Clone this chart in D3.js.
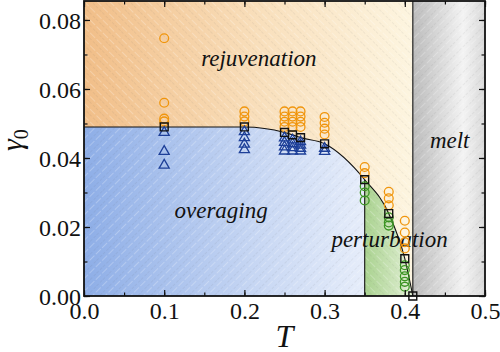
<!DOCTYPE html>
<html>
<head>
<meta charset="utf-8">
<script src="https://cdn.jsdelivr.net/npm/d3@7.9.0/dist/d3.min.js"></script>
<style>
  body { margin: 0; background: #fff; }
  svg { display: block; }
</style>
</head>
<body>
<svg id="chart" width="500" height="352"></svg>
<script>
// data: [T, gamma0]
const rejuvenationPts = [
  [0.1, 0.0747], [0.1, 0.056], [0.1, 0.0514], [0.1, 0.0506],
  [0.2, 0.0535], [0.2, 0.052], [0.2, 0.0506],
  [0.25, 0.0535], [0.25, 0.052], [0.25, 0.0505], [0.25, 0.049],
  [0.26, 0.0535], [0.26, 0.052], [0.26, 0.0505], [0.26, 0.049],
  [0.27, 0.0535], [0.27, 0.052], [0.27, 0.0505], [0.27, 0.049],
  [0.3, 0.0519], [0.3, 0.0502], [0.3, 0.0485], [0.3, 0.0468],
  [0.35, 0.0374], [0.35, 0.0356],
  [0.38, 0.0302], [0.38, 0.0283], [0.38, 0.0263],
  [0.4, 0.0218], [0.4, 0.0184], [0.4, 0.0156], [0.4, 0.0138]
];
const overagingPts = [
  [0.1, 0.0474], [0.1, 0.0419], [0.1, 0.0379],
  [0.2, 0.0476], [0.2, 0.0459], [0.2, 0.044], [0.2, 0.0424],
  [0.25, 0.0458], [0.25, 0.0445], [0.25, 0.0432], [0.25, 0.042],
  [0.26, 0.0452], [0.26, 0.0441], [0.26, 0.043], [0.26, 0.042],
  [0.27, 0.0447], [0.27, 0.0437], [0.27, 0.0428], [0.27, 0.042],
  [0.3, 0.0428], [0.3, 0.0419]
];
const perturbationPts = [
  [0.35, 0.0318], [0.35, 0.030], [0.35, 0.0277],
  [0.38, 0.0228], [0.38, 0.0213], [0.38, 0.0204],
  [0.4, 0.0089], [0.4, 0.0075], [0.4, 0.0057], [0.4, 0.0041], [0.4, 0.0027]
];
const boundaryT = [0, 0.1, 0.2, 0.25, 0.26, 0.27, 0.3, 0.35, 0.38, 0.4, 0.41];
const boundaryG = [0.049, 0.049, 0.049, 0.0474, 0.0467, 0.0459, 0.0441, 0.0337, 0.0239, 0.0108, 0];
const squareIdx = [1, 2, 3, 4, 5, 6, 7, 8, 9, 10];   // boundary points drawn as squares
const perturbT = 0.35, meltT = 0.41;
const regionNames = ['rejuvenation', 'overaging', 'perturbation', 'melt'];
const regionAt = [[0.218, 0.0667], [0.171, 0.0226], [0.381, 0.0142], [0.456, 0.0428]];
const xTicks = [0, 0.1, 0.2, 0.3, 0.4, 0.5];
const yTicks = [0, 0.02, 0.04, 0.06, 0.08];

const SERIF = 'Liberation Serif';
const svg = d3.select('#chart');
const L = 84, R = 485, T = 1, B = 296;

const x = d3.scaleLinear().domain([0, 0.5]).range([L, R]);
const y = d3.scaleLinear().domain([0, 0.0855]).range([B, T]);

const boundary = boundaryT.map((t, i) => [t, boundaryG[i]]);

const defs = svg.append('defs');

function grad(id, x1, x2, stops) {
  const g = defs.append('linearGradient').attr('id', id)
    .attr('gradientUnits', 'userSpaceOnUse')
    .attr('x1', x1).attr('x2', x2).attr('y1', 0).attr('y2', 0);
  stops.forEach(s => g.append('stop').attr('offset', s[0]).attr('stop-color', s[1]));
}
grad('gRej', x(0), x(meltT), [[0, '#f1be88'], [0.55, '#f9e0bd'], [1, '#fdf5e0']]);
grad('gOve', x(0), x(perturbT), [[0, '#8eaee7'], [0.6, '#c6d6f3'], [1, '#e6edfa']]);
grad('gPer', x(perturbT), x(meltT), [[0, '#a9d28f'], [1, '#e3f0d6']]);
grad('gMelt', x(meltT), x(0.5), [[0, '#bcbcbc'], [0.7, '#f3f3f3'], [1, '#d9d9d9']]);

function hatch(id, angle) {
  const p = defs.append('pattern').attr('id', id)
    .attr('patternUnits', 'userSpaceOnUse')
    .attr('width', 9).attr('height', 9)
    .attr('patternTransform', `rotate(${angle})`);
  p.append('line').attr('x1', 0).attr('y1', 0).attr('x2', 0).attr('y2', 9)
    .attr('stroke', 'rgba(70,70,70,0.2)').attr('stroke-width', 0.7)
    .attr('stroke-dasharray', '3,2');
  p.append('line').attr('x1', 4.5).attr('y1', 0).attr('x2', 4.5).attr('y2', 9)
    .attr('stroke', 'rgba(255,255,255,0.35)').attr('stroke-width', 0.7)
    .attr('stroke-dasharray', '4,2');
}
hatch('hBack', -45);
hatch('hFwd', 45);

defs.append('clipPath').attr('id', 'cOve').append('rect')
  .attr('x', x(0)).attr('y', T).attr('width', x(perturbT) - x(0)).attr('height', B - T);
defs.append('clipPath').attr('id', 'cPer').append('rect')
  .attr('x', x(perturbT)).attr('y', T).attr('width', x(meltT) - x(perturbT)).attr('height', B - T);

const area = d3.area().x(d => x(d[0])).y0(y(0)).y1(d => y(d[1])).curve(d3.curveMonotoneX);
const line = d3.line().x(d => x(d[0])).y(d => y(d[1])).curve(d3.curveMonotoneX);

// regions
const rej = [x(0), T, x(meltT) - x(0), B - T];
svg.append('rect').attr('x', rej[0]).attr('y', rej[1]).attr('width', rej[2]).attr('height', rej[3]).attr('fill', 'url(#gRej)');
svg.append('rect').attr('x', rej[0]).attr('y', rej[1]).attr('width', rej[2]).attr('height', rej[3]).attr('fill', 'url(#hBack)');

svg.append('path').attr('d', area(boundary)).attr('fill', 'url(#gOve)').attr('clip-path', 'url(#cOve)');
svg.append('path').attr('d', area(boundary)).attr('fill', 'url(#hFwd)').attr('clip-path', 'url(#cOve)');
svg.append('path').attr('d', area(boundary)).attr('fill', 'url(#gPer)').attr('clip-path', 'url(#cPer)');
svg.append('path').attr('d', area(boundary)).attr('fill', 'url(#hBack)').attr('clip-path', 'url(#cPer)');

svg.append('rect').attr('x', x(meltT)).attr('y', T).attr('width', x(0.5) - x(meltT)).attr('height', B - T).attr('fill', 'url(#gMelt)');
svg.append('rect').attr('x', x(meltT)).attr('y', T).attr('width', x(0.5) - x(meltT)).attr('height', B - T).attr('fill', 'url(#hFwd)');

// boundaries
const yAt35 = boundaryG[boundaryT.indexOf(perturbT)];
svg.append('line').attr('x1', x(perturbT)).attr('x2', x(perturbT)).attr('y1', y(0)).attr('y2', y(yAt35))
  .attr('stroke', '#111').attr('stroke-width', 1.1);
svg.append('line').attr('x1', x(meltT)).attr('x2', x(meltT)).attr('y1', y(0)).attr('y2', T)
  .attr('stroke', '#111').attr('stroke-width', 1.1);
svg.append('path').attr('d', line(boundary)).attr('fill', 'none').attr('stroke', '#111').attr('stroke-width', 1.1);

// region labels
const lab = svg.append('g');
regionNames.forEach((name, i) => {
  lab.append('text').attr('x', x(regionAt[i][0])).attr('y', y(regionAt[i][1])).attr('text-anchor', 'middle')
    .style('font-family', SERIF).style('font-style', 'italic').style('font-size', '23px')
    .attr('fill', '#111').text(name);
});

// markers
svg.append('g').selectAll('circle').data(rejuvenationPts).join('circle')
  .attr('cx', d => x(d[0])).attr('cy', d => y(d[1])).attr('r', 4.4)
  .attr('fill', 'none').attr('stroke', '#f0950c').attr('stroke-width', 1.3);
svg.append('g').selectAll('circle').data(perturbationPts).join('circle')
  .attr('cx', d => x(d[0])).attr('cy', d => y(d[1])).attr('r', 4.4)
  .attr('fill', 'none').attr('stroke', '#3b9423').attr('stroke-width', 1.3);
const tri = d3.symbol().type(d3.symbolTriangle).size(44);
svg.append('g').selectAll('path').data(overagingPts).join('path')
  .attr('transform', d => `translate(${x(d[0])},${y(d[1])})`).attr('d', tri)
  .attr('fill', 'none').attr('stroke', '#1d3f98').attr('stroke-width', 1.3);
const sq = d3.symbol().type(d3.symbolSquare).size(62);
svg.append('g').selectAll('path').data(squareIdx.map(i => boundary[i])).join('path')
  .attr('transform', d => `translate(${x(d[0])},${y(d[1])})`).attr('d', sq)
  .attr('fill', 'none').attr('stroke', '#111').attr('stroke-width', 1.4);

// axes, ticks inward on all sides
const xMinor = d3.range(0, 0.501, 0.05);
const yMinor = d3.range(0, 0.0855, 0.01);
function drawAxis(axis, tr) {
  return svg.append('g').attr('transform', tr).call(axis)
    .call(g => g.select('.domain').remove())
    .call(g => g.selectAll('line').attr('stroke', '#111').attr('stroke-width', 1.2));
}
drawAxis(d3.axisBottom(x).tickValues(xMinor).tickSize(-3.5).tickFormat(''), `translate(0,${B})`);
drawAxis(d3.axisTop(x).tickValues(xMinor).tickSize(-3.5).tickFormat(''), `translate(0,${T})`);
drawAxis(d3.axisLeft(y).tickValues(yMinor).tickSize(-3.5).tickFormat(''), `translate(${L},0)`);
drawAxis(d3.axisRight(y).tickValues(yMinor).tickSize(-3.5).tickFormat(''), `translate(${R},0)`);
drawAxis(d3.axisTop(x).tickValues(xTicks).tickSize(-6).tickFormat(''), `translate(0,${T})`);
drawAxis(d3.axisRight(y).tickValues(yTicks).tickSize(-6).tickFormat(''), `translate(${R},0)`);

const xAx = drawAxis(d3.axisBottom(x).tickValues(xTicks).tickSize(-6).tickFormat(d3.format('.1f')), `translate(0,${B})`);
xAx.selectAll('text').attr('y', 23).attr('dy', 0).attr('fill', '#111')
  .style('font-family', SERIF).style('font-size', '24px');
const yAx = drawAxis(d3.axisLeft(y).tickValues(yTicks).tickSize(-6).tickFormat(d3.format('.2f')), `translate(${L},0)`);
yAx.selectAll('text').attr('x', -3).attr('dy', '0.34em').attr('fill', '#111')
  .style('font-family', SERIF).style('font-size', '24px');

svg.append('rect').attr('x', L).attr('y', T).attr('width', R - L).attr('height', B - T)
  .attr('fill', 'none').attr('stroke', '#111').attr('stroke-width', 1.8);

// axis titles
svg.append('text').attr('x', x(0.25)).attr('y', 347).attr('text-anchor', 'middle')
  .style('font-family', SERIF).style('font-size', '32px').style('font-style', 'italic')
  .attr('fill', '#111').text('T');
const yl = svg.append('text').attr('transform', `translate(22,${y(0.0452)}) rotate(-90)`)
  .attr('text-anchor', 'middle').style('font-family', SERIF).style('font-size', '30px').attr('fill', '#111');
yl.append('tspan').style('font-style', 'italic').text('γ');
yl.append('tspan').style('font-size', '20px').attr('dy', 6).text('0');
</script>
</body>
</html>
